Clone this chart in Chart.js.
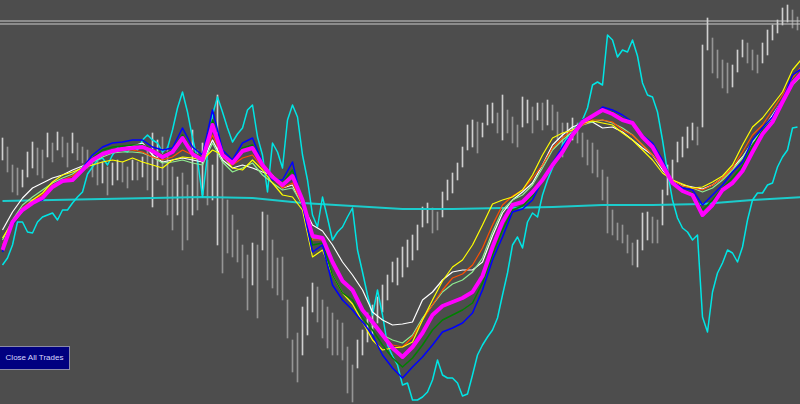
<!DOCTYPE html>
<html><head><meta charset="utf-8">
<script src="https://cdn.jsdelivr.net/npm/chart.js@4/dist/chart.umd.min.js"></script>
<style>
html,body{margin:0;padding:0;background:#4d4d4d;width:800px;height:404px;overflow:hidden}
#wrap{position:relative;width:800px;height:404px}
#c{position:absolute;left:0;top:0}
#btn{position:absolute;left:0;top:346px;width:69px;height:22px;background:#000080;border:1px solid #8a8aa8;border-left:none;color:#d8d8ff;font:8px "Liberation Sans",Arial,sans-serif;line-height:22px;text-align:center;z-index:2}
</style></head>
<body>
<div id="wrap"><canvas id="c" width="800" height="404"></canvas><div id="btn">Close All Trades</div></div>
<script>
// Price bars (points), one per period
const barHigh = [266,257,239,236,234,252,262,256,254,271,261,272,267,261,271,261,257,254,247,244,
242,237,241,244,242,237,244,242,247,254,271,264,267,257,237,227,231,219,274,254,
261,244,239,309,254,204,189,174,159,149,161,159,192,189,164,146,147,104,64,71,
97,107,121,117,104,97,91,84,81,57,39,64,74,91,99,107,119,129,142,146,
157,164,169,179,197,201,196,192,212,224,231,241,257,279,284,282,281,299,301,291,
309,294,287,279,307,304,297,301,301,304,299,292,281,281,286,281,271,264,261,254,
234,227,194,181,179,169,161,164,191,192,187,184,214,239,244,262,267,277,281,277,
359,386,366,354,344,341,339,354,364,361,354,349,361,374,379,384,396,399,394,387];
const barLow = [244,232,212,209,217,227,236,229,226,247,242,254,247,237,251,244,241,236,227,219,
221,209,219,224,222,216,224,224,227,214,197,224,219,189,174,189,154,164,189,194,
209,199,204,159,131,151,147,142,126,94,119,86,154,124,116,109,104,66,32,22,
49,69,92,82,66,56,49,49,44,11,2,36,49,62,69,81,92,104,122,119,
127,137,144,154,177,181,171,174,187,204,211,224,237,254,257,251,267,279,281,271,
264,271,261,257,277,281,271,284,274,279,274,264,247,261,264,261,247,239,231,227,
204,171,169,164,161,151,139,137,154,164,161,161,179,209,222,242,247,256,264,259,
277,354,331,326,316,311,317,332,347,341,334,331,341,349,364,371,379,382,376,374];

// Fast cyan indicator, one value per period
const cyanFast = [139,146,159,182,182,172,171,182,187,189,191,184,194,194,201,207,212,230,237,244,
246,239,249,256,254,252,258,254,264,269,264,261,252,256,274,296,312,292,266,244,
207,249,289,307,292,276,262,270,276,294,299,267,249,212,261,252,236,284,299,287,
249,224,189,177,207,186,164,172,177,187,196,154,132,109,89,114,89,59,48,39,
19,21,4,4,7,12,24,44,29,26,26,21,8,10,29,49,59,67,74,86,
109,131,159,167,156,182,191,187,209,224,236,246,259,267,274,279,284,296,319,322,
319,369,364,347,354,352,364,348,321,309,307,292,264,232,204,186,176,172,164,169,
87,72,112,131,141,154,151,142,157,184,204,211,211,219,221,237,247,254,276,277];

// Slow cyan average, every 10 periods
const cyanSlow = [203,204,205,206,207,206,201,198,195,195,196,197,199,199,200,204,207];

// Moving averages, every 2 periods
const maMagenta = [154,182,194,201,206,217,223,224,234,244,250,253,255,256,257,253,247,252,266,250,
244,279,249,241,253,256,239,227,219,228,204,168,166,142,123,114,94,82,69,56,
47,57,71,89,98,102,106,112,128,157,182,199,202,212,224,239,252,269,282,288,
294,290,284,281,267,257,239,221,213,209,189,199,214,221,233,252,270,282,302,321,332];
const maBlue = [152,179,194,201,204,217,224,224,236,249,257,261,262,264,264,257,254,256,276,257,
249,294,254,244,261,266,241,224,224,242,199,152,159,119,104,94,82,69,49,36,
26,37,47,59,72,76,81,91,114,144,167,192,195,204,224,241,257,271,284,287,
297,294,289,282,269,261,244,222,216,214,199,209,219,232,242,264,276,287,304,329,336];
const maDarkGreen = [152,179,192,201,204,216,222,223,234,246,254,257,258,259,259,254,249,254,269,252,
246,284,251,242,256,259,239,224,221,234,201,159,161,129,111,104,86,74,59,46,
37,46,59,74,84,89,94,101,121,149,174,194,198,208,224,239,254,271,284,289,
294,292,286,282,269,259,242,222,214,211,194,204,216,226,238,258,274,284,302,324,334];
const maYellow = [166,182,194,204,211,222,229,232,236,239,242,244,242,246,242,239,236,244,247,246,
244,254,249,236,234,244,234,221,209,207,194,147,154,129,111,100,82,64,54,56,
57,62,84,104,123,137,144,159,179,200,204,207,214,229,249,266,271,274,281,283,
281,279,271,264,254,244,231,224,220,216,217,222,228,239,259,277,286,299,312,334,346];
const maWhite = [174,192,206,216,221,226,229,234,238,243,249,254,256,258,261,249,242,244,246,244,
242,264,244,236,239,236,232,229,216,219,199,179,173,159,142,129,114,92,84,79,
80,82,104,112,124,132,134,134,142,168,191,204,212,221,239,259,269,277,281,282,
276,277,272,264,256,249,234,223,219,217,215,219,226,236,247,262,274,289,304,324,334];
const maOrange = [159,182,196,204,209,219,224,228,236,244,249,252,254,254,252,247,244,247,254,249,
244,269,247,239,246,249,236,226,216,221,199,164,164,142,124,114,96,82,69,59,
57,67,84,99,114,126,130,139,156,179,199,208,214,226,239,256,266,274,279,284,
284,282,274,269,259,249,236,224,218,216,214,219,226,236,252,269,279,294,309,326,339];
const maLightGreen = [164,184,199,207,214,221,226,230,237,242,247,251,252,252,251,247,241,242,244,241,
239,261,242,232,236,241,229,221,214,216,199,166,166,142,122,112,94,79,69,64,
61,69,86,99,112,120,124,132,146,172,194,204,209,219,236,254,264,272,279,282,
284,281,276,269,259,249,236,224,218,216,212,216,224,234,246,262,274,286,301,319,329];

// Horizontal levels
const levels = [383, 380];

function lineDS(vals, step, color, width, order){
  return {type:'line', data: vals.map((v,k)=>({x:k*step, y:v})), borderColor: color,
    borderWidth: width, pointRadius: 0, fill: false, tension: 0, order: order,
    borderJoinStyle: 'round'};
}
const barColors = barHigh.map((h,i)=>{
  const m = (h + barLow[i]) / 2;
  const pm = i > 0 ? (barHigh[i-1] + barLow[i-1]) / 2 : m;
  return m >= pm ? '#cfcfcf' : '#959595';
});
const datasets = [
  lineDS(maMagenta, 2, '#ff00ff', 4, 0),
  lineDS(maBlue, 2, '#0000ff', 1.5, 1),
  lineDS(maDarkGreen, 2, '#008000', 1.5, 2),
  lineDS(maYellow, 2, '#ffff00', 1.2, 3),
  lineDS(maOrange, 2, '#ff5000', 1.2, 4),
  lineDS(maLightGreen, 2, '#90ee90', 1.2, 5),
  lineDS(maWhite, 2, '#ffffff', 1.2, 6),
  lineDS(cyanFast, 1, '#00e5e5', 1.5, 7),
  lineDS(cyanSlow, 10, '#1ccccc', 2, 8)
];
levels.forEach(lv => datasets.push({type:'line', data:[{x:-1,y:lv},{x:161,y:lv}], borderColor:'#cccccc',
  borderWidth:1.2, pointRadius:0, order:9}));
datasets.push({type:'bar', data: barHigh.map((h,i)=>({x:i, y:[barLow[i], h]})),
  backgroundColor: barColors, barThickness: 1, grouped: false, order: 10});

new Chart(document.getElementById('c'), {
  type: 'bar',
  data: { datasets },
  options: {
    responsive: false, animation: false, devicePixelRatio: 1,
    layout: { padding: 0 },
    plugins: { legend: { display: false }, tooltip: { enabled: false } },
    scales: {
      x: { type: 'linear', min: -0.5, max: 159.5, display: false, offset: false },
      y: { min: 0, max: 404, display: false }
    }
  }
});
</script>
</body></html>
